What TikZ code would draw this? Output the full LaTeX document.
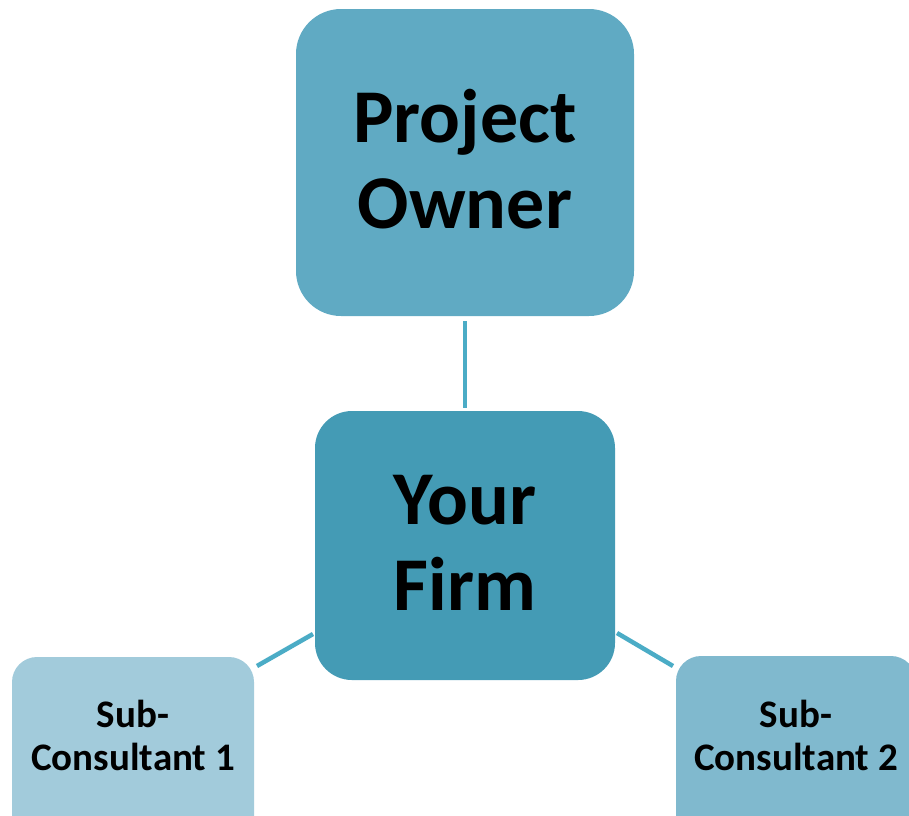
\documentclass[tikz,border=0pt]{standalone}
\usepackage{fontspec}
\setmainfont{Carlito}
\definecolor{poC}{HTML}{60AAC3}
\definecolor{yfC}{HTML}{449BB5}
\definecolor{s1C}{HTML}{A2CBDB}
\definecolor{s2C}{HTML}{80B9CE}
\definecolor{lnC}{HTML}{4BACC6}
\begin{document}
\begin{tikzpicture}[x=1pt,y=-1pt,
  boxshape/.style={rectangle, inner sep=0pt, draw=none},
  bigtext/.style={inner sep=0pt, align=center, text=black,
    font=\fontsize{76}{86}\selectfont\bfseries},
  smalltext/.style={inner sep=0pt, align=center, text=black,
    font=\fontsize{39}{43}\selectfont\bfseries},
  conn/.style={draw=lnC, line width=4.5pt}]
\useasboundingbox (0,0) rectangle (909,815);
\clip (0,0) rectangle (909,815);
\node[boxshape, fill=poC, rounded corners=45pt, minimum width=338pt, minimum height=307pt] (po) at (465,162.5) {};
\node[bigtext] (poT) at (465,159.5) {Project\\Owner};
\node[boxshape, fill=yfC, rounded corners=37pt, minimum width=300pt, minimum height=269pt] (yf) at (465,545.5) {};
\node[bigtext] (yfT) at (465,543) {Your\\Firm};
\node[boxshape, fill=s1C, rounded corners=25pt, minimum width=242pt, minimum height=190pt] (s1) at (133,752) {};
\node[smalltext] (s1T) at (133,735) {Sub-\\Consultant 1};
\node[boxshape, fill=s2C, rounded corners=25pt, minimum width=240pt, minimum height=190pt] (s2) at (796,751) {};
\node[smalltext] (s2T) at (796,735) {Sub-\\Consultant 2};
\coordinate (poB) at (465,321);
\coordinate (yfTop) at (465,408);
\coordinate (yfL) at (313,634);
\coordinate (s1R) at (257,666);
\coordinate (yfR) at (617,633);
\coordinate (s2L) at (673,666);
\draw[conn] (poB) -- (yfTop);
\draw[conn] (s1R) -- (yfL);
\draw[conn] (yfR) -- (s2L);
\end{tikzpicture}
\end{document}
